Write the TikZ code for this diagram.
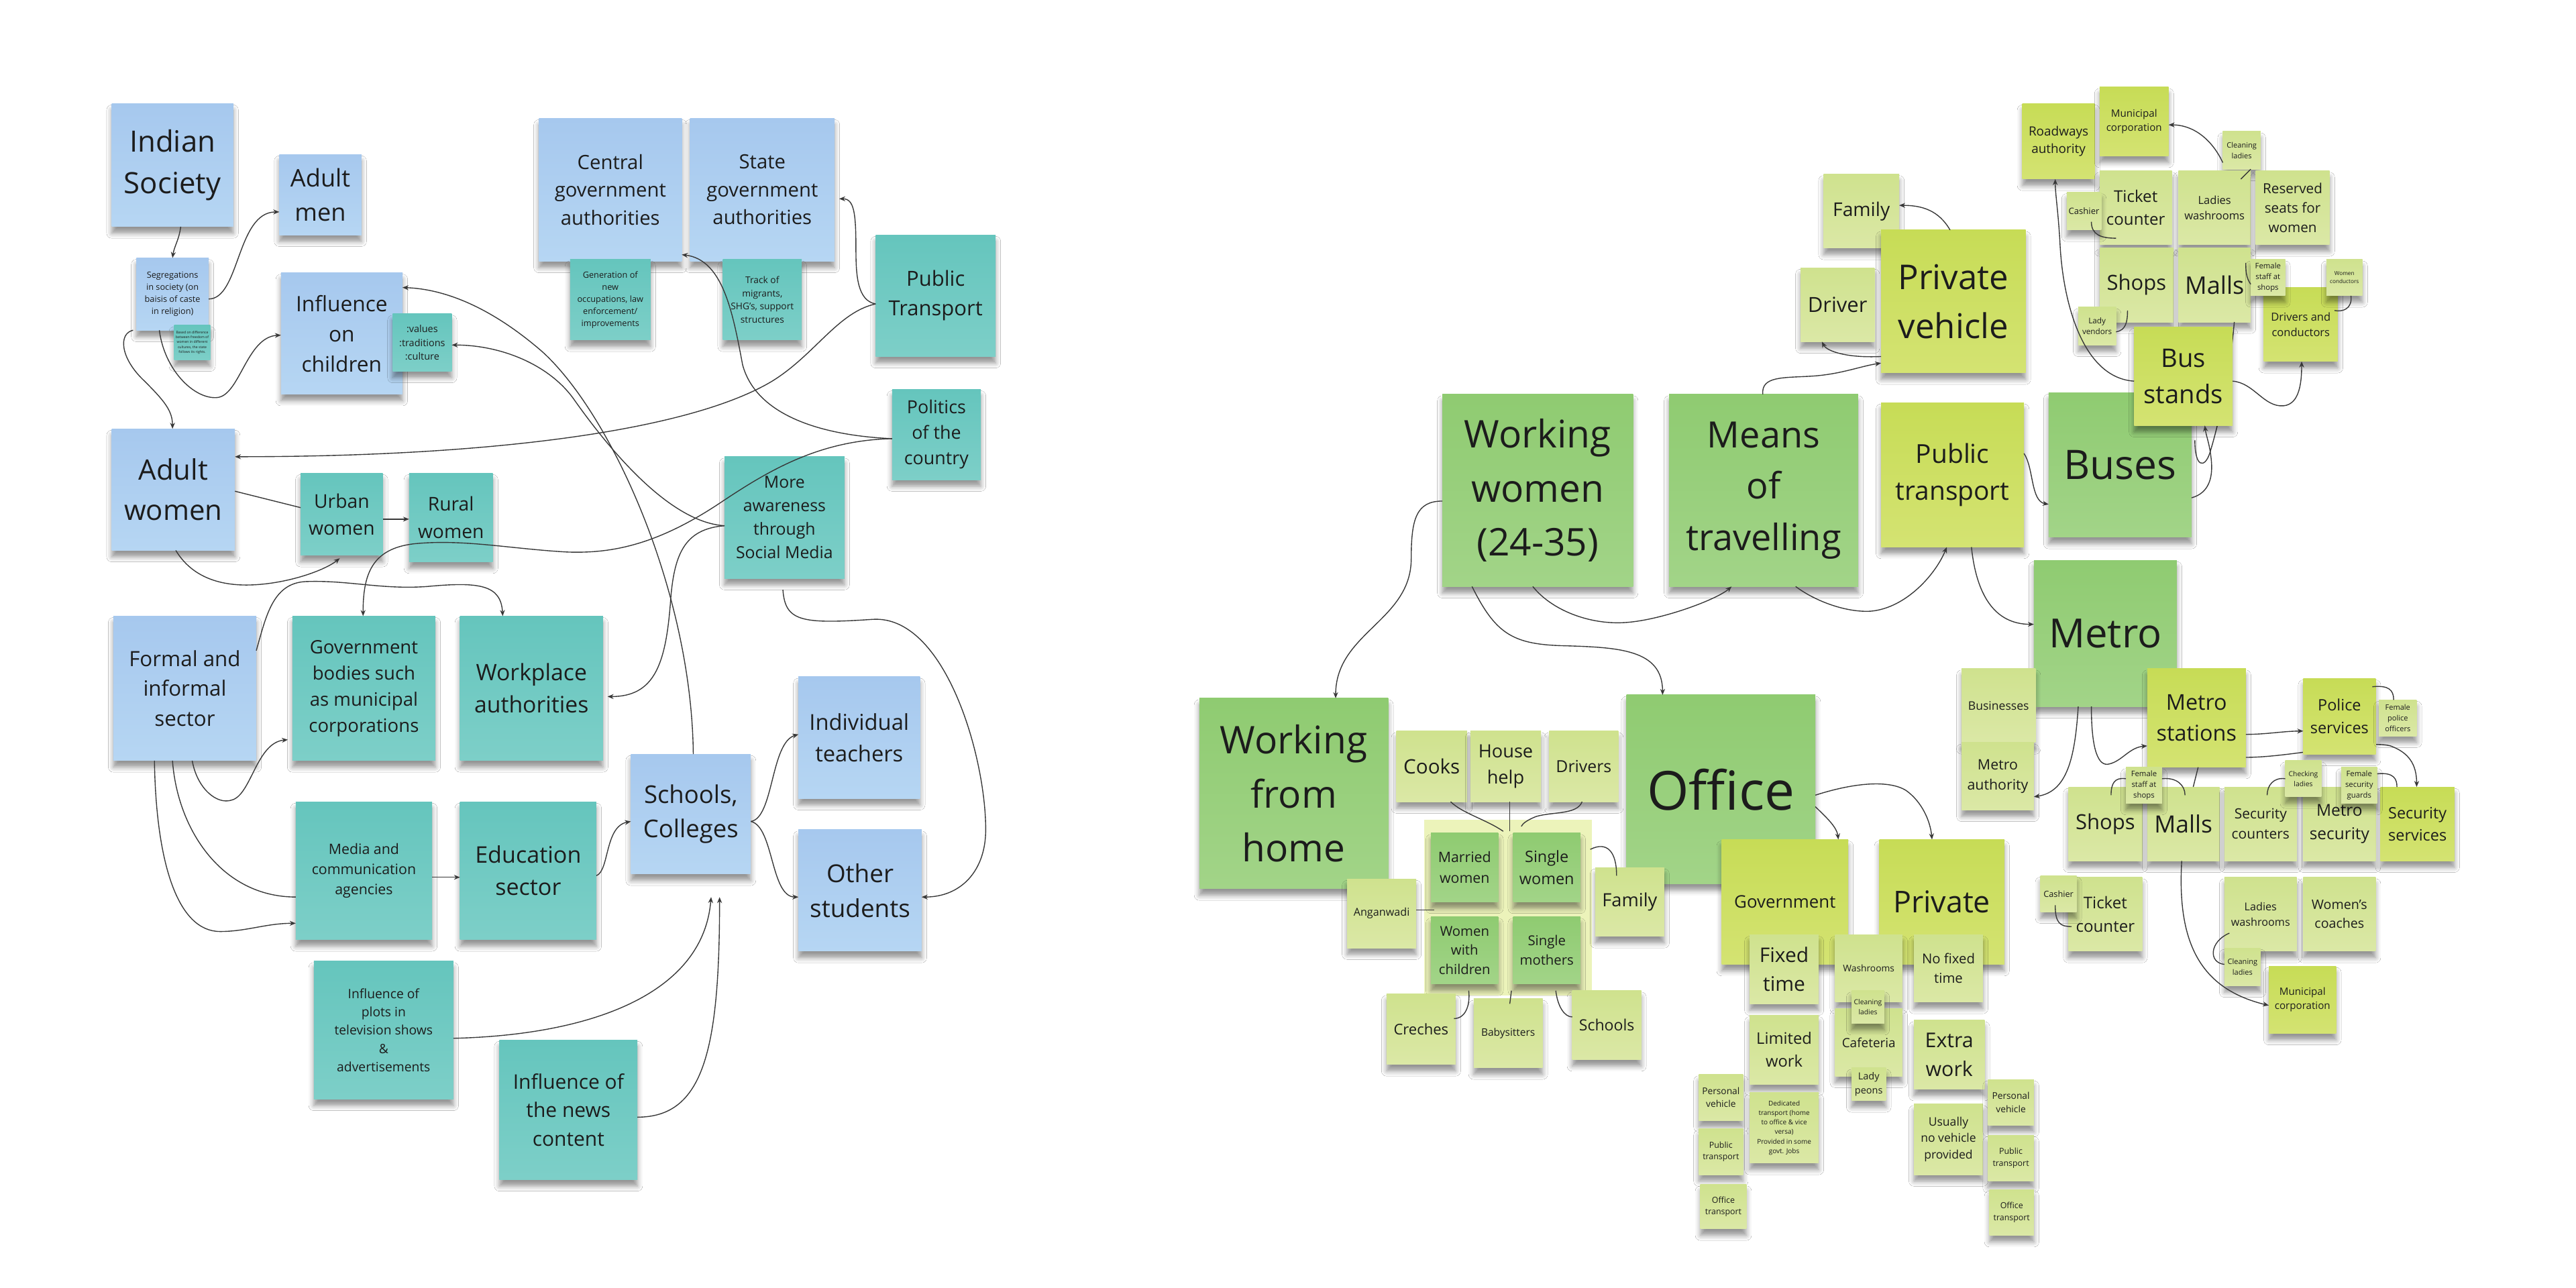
\documentclass[tikz,border=0pt]{standalone}
\usepackage{fontspec}
\setmainfont{Open Sans}
\usetikzlibrary{calc,arrows.meta,shadows.blur}
\definecolor{blueT}{RGB}{166,200,238}
\definecolor{blueB}{RGB}{182,214,243}
\definecolor{tealT}{RGB}{101,197,189}
\definecolor{tealB}{RGB}{125,207,200}
\definecolor{greenT}{RGB}{143,203,113}
\definecolor{greenB}{RGB}{162,212,136}
\definecolor{limeT}{RGB}{199,220,86}
\definecolor{limeB}{RGB}{212,227,114}
\definecolor{lightT}{RGB}{207,226,142}
\definecolor{lightB}{RGB}{219,232,166}
\definecolor{paleC}{RGB}{236,243,186}
\definecolor{txtC}{RGB}{28,28,28}
\definecolor{lineC}{RGB}{55,55,55}
\newcommand\fs[1]{\fontsize{#1}{\fpeval{#1*1.42}}\selectfont}
\newcommand\stk[8]{\node[#2, font=\fs{#3}, minimum width={(#6-#4)*0.025cm}, minimum height={(#7-#5)*0.025cm}] (#1) at ({(#4+#6)/2},{(#5+#7)/2}) {#8};}
\tikzset{
  stick/.style={rectangle, inner sep=0.5pt, outer sep=0pt, align=center, text=txtC,
    blur shadow={shadow xshift=0pt, shadow yshift=-2.8pt, shadow blur radius=2.2pt, shadow opacity=42}},
  nblue/.style={stick, top color=blueT, bottom color=blueB},
  nteal/.style={stick, top color=tealT, bottom color=tealB},
  ngreen/.style={stick, top color=greenT, bottom color=greenB},
  nlime/.style={stick, top color=limeT, bottom color=limeB},
  nlight/.style={stick, top color=lightT, bottom color=lightB},
  npale/.style={rectangle, inner sep=0pt, outer sep=0pt, fill=paleC},
  link/.style={draw=lineC, line width=0.4pt},
  arw/.style={link, -{Stealth[length=2.6pt,width=2.1pt]}},
}
\begin{document}
\begin{tikzpicture}[x=0.025cm, y=-0.025cm]
\useasboundingbox (0,0) rectangle (1568,784);
\fill[white] (0,0) rectangle (1568,784);

% ---------------- LEFT MAP ----------------
\stk{indsoc}{nblue}{12.7}{68}{63}{142}{138}{Indian\\Society}
\stk{adultmen}{nblue}{10.5}{170}{94}{220}{143}{Adult\\men}
\stk{segreg}{nblue}{3.7}{83}{157}{127}{201}{Segregations\\in society (on\\baisis of caste\\in religion)}
\stk{segnote}{nteal}{1.5}{106}{198}{128}{219}{Based on difference\\between freedom of\\women in different\\cultures, the state\\follows its rights.}
\stk{influence}{nblue}{9.2}{171}{166}{245}{240}{Influence\\on\\children}
\stk{values}{nteal}{4.2}{239}{191}{275}{226}{:values\\:traditions\\:culture}
\stk{centgov}{nblue}{8.5}{328}{72}{415}{159}{Central\\government\\authorities}
\stk{stategov}{nblue}{8.5}{420}{72}{508}{159}{State\\government\\authorities}
\stk{gennote}{nteal}{3.7}{347}{158}{396}{207}{Generation of\\new\\occupations, law\\enforcement/\\improvements}
\stk{tracknote}{nteal}{4.0}{440}{158}{488}{207}{Track of\\migrants,\\SHG's, support\\structures}
\stk{pubtrans}{nteal}{9.0}{533}{143}{606}{217}{Public\\Transport}
\stk{politics}{nteal}{7.8}{543}{237}{597}{292}{Politics\\of the\\country}
\stk{adultwomen}{nblue}{12.2}{68}{261}{143}{335}{Adult\\women}
\stk{urban}{nteal}{8.2}{183}{288}{233}{338}{Urban\\women}
\stk{rural}{nteal}{8.2}{249}{288}{300}{342}{Rural\\women}
\stk{moreaw}{nteal}{7.2}{441}{278}{514}{352}{More\\awareness\\through\\Social Media}
\stk{formal}{nblue}{9.1}{69}{375}{156}{463}{Formal and\\informal\\sector}
\stk{govbodies}{nteal}{8.0}{178}{375}{265}{463}{Government\\bodies such\\as municipal\\corporations}
\stk{workplace}{nteal}{9.8}{280}{375}{367}{463}{Workplace\\authorities}
\stk{indteach}{nblue}{9.5}{486}{412}{560}{486}{Individual\\teachers}
\stk{schools}{nblue}{10.6}{384}{459}{457}{532}{Schools,\\Colleges}
\stk{other}{nblue}{10.7}{486}{505}{561}{579}{Other\\students}
\stk{media}{nteal}{6.2}{180}{488}{263}{572}{Media and\\communication\\agencies}
\stk{education}{nteal}{9.9}{280}{488}{363}{572}{Education\\sector}
\stk{plots}{nteal}{5.6}{191}{585}{276}{669}{Influence of\\plots in\\television shows\\\&\\advertisements}
\stk{news}{nteal}{8.7}{304}{633}{388}{718}{Influence of\\the news\\content}

% left connectors
\draw[arw] (indsoc.south -| 110,0) .. controls (109,146) and (106,150) .. (segreg.north -| 105,0);
\draw[arw] (segreg.east |- 0,182) .. controls (146,182) and (144,129) .. (adultmen.west |- 0,129);
\draw[arw] (segreg.south -| 97,0) .. controls (100,225) and (118,243) .. (132,242) .. controls (146,241) and (150,205) .. (influence.west |- 0,204);
\draw[arw] (segreg.south -| 81,0) .. controls (72,203) and (73,218) .. (88,232) .. controls (100,244) and (105,250) .. (adultwomen.north -| 105,0);
\draw[arw] (schools.north -| 422,0) .. controls (421,360) and (372,252) .. (330,214) .. controls (300,188) and (272,176) .. (influence.east |- 0,175);
\draw[arw] (moreaw.west |- 0,320) .. controls (408,318) and (372,275) .. (350,244) .. controls (335,222) and (305,210) .. (values.east |- 0,210);
\draw[arw, shorten >=2pt] (moreaw.west |- 0,320) .. controls (416,322) and (410,338) .. (408,368) .. controls (405,405) and (398,424) .. (workplace.east |- 0,424);
\draw[arw] (politics.west |- 0,267) .. controls (498,265) and (460,252) .. (452,222) .. controls (446,190) and (440,158) .. (centgov.east |- 0,155);
\draw[arw, shorten >=2pt] (pubtrans.west |- 0,185) .. controls (522,183) and (521,168) .. (521,152) .. controls (521,130) and (520,121) .. (stategov.east |- 0,121);
\draw[arw] (pubtrans.west |- 0,185) .. controls (510,190) and (496,216) .. (470,232) .. controls (420,262) and (300,278) .. (adultwomen.east |- 0,278);
\draw[arw] (politics.west |- 0,267) .. controls (500,268) and (470,285) .. (440,305) .. controls (400,332) and (372,337) .. (345,336) .. controls (310,334) and (282,328) .. (252,331) .. controls (226,334) and (221,350) .. (govbodies.north -| 221,0);
\draw[link] (adultwomen.east |- 0,299) -- (urban.west |- 0,309);
\draw[arw] (urban.east |- 0,316) -- (rural.west |- 0,316);
\draw[arw, shorten >=2pt] (adultwomen.south -| 107,0) .. controls (116,350) and (132,357) .. (154,356) .. controls (176,355) and (198,347) .. (urban.south -| 209,0);
\draw[arw] (formal.east |- 0,396) .. controls (162,375) and (166,355) .. (186,354) .. controls (212,353) and (232,359) .. (260,357) .. controls (292,354) and (305,356) .. (workplace.north -| 306,0);
\draw[arw, shorten >=2pt] (formal.south -| 117,0) .. controls (120,480) and (132,490) .. (141,487) .. controls (153,484) and (156,452) .. (govbodies.west |- 0,450);
\draw[link] (formal.south -| 105,0) .. controls (108,505) and (135,546) .. (media.west |- 0,546);
\draw[arw] (formal.south -| 94,0) .. controls (95,525) and (108,567) .. (134,567) .. controls (150,567) and (162,562) .. (media.west |- 0,562);
\draw[arw] (media.east |- 0,534) -- (education.west |- 0,534);
\draw[arw] (education.east |- 0,533) .. controls (371,530) and (368,503) .. (schools.west |- 0,500);
\draw[arw] (schools.east |- 0,500) .. controls (471,498) and (469,452) .. (indteach.west |- 0,447);
\draw[arw] (schools.east |- 0,500) .. controls (471,503) and (469,546) .. (other.west |- 0,546);
\draw[arw, shorten <=5pt] (moreaw.south -| 476,0) .. controls (478,378) and (487,380) .. (531,377) .. controls (575,374) and (600,460) .. (600,505) .. controls (600,530) and (585,546) .. (other.east |- 0,546);
\draw[arw, shorten >=10pt] (plots.east |- 0,632) .. controls (360,630) and (428,605) .. (schools.south -| 434,0);
\draw[arw, shorten >=10pt] (news.east |- 0,680) .. controls (428,680) and (438,640) .. (schools.south -| 438,0);

% ---------------- RIGHT MAP ----------------
\stk{roadways}{nlime}{5.5}{1231}{63}{1275}{109}{Roadways\\authority}
\stk{municipal1}{nlime}{4.4}{1278}{53}{1320}{95}{Municipal\\corporation}
\stk{clean1}{nlight}{3.2}{1353}{80}{1376}{103}{Cleaning\\ladies}
\stk{family1}{nlight}{8.2}{1110}{106}{1156}{151}{Family}
\stk{driver}{nlight}{9.0}{1096}{163}{1141}{208}{Driver}
\stk{privveh}{nlime}{14.8}{1145}{140}{1233}{227}{Private\\vehicle}
\stk{ticket1}{nlight}{7.0}{1278}{104}{1322}{149}{Ticket\\counter}
\stk{cashier1}{nlight}{3.8}{1258}{117}{1279}{140}{Cashier}
\stk{ladieswash1}{nlight}{4.8}{1326}{104}{1370}{149}{Ladies\\washrooms}
\stk{reserved}{nlight}{6.0}{1373}{104}{1418}{149}{Reserved\\seats for\\women}
\stk{shops1}{nlight}{9.0}{1278}{151}{1323}{196}{Shops}
\stk{malls1}{nlight}{10.5}{1326}{151}{1370}{196}{Malls}
\stk{drivcond}{nlime}{4.8}{1378}{175}{1423}{220}{Drivers and\\conductors}
\stk{femstaff1}{nlight}{3.3}{1370}{158}{1391}{180}{Female\\staff at\\shops}
\stk{womcond}{nlight}{2.4}{1416}{158}{1438}{180}{Women\\conductors}
\stk{ladyv}{nlight}{3.4}{1265}{187}{1288}{210}{Lady\\vendors}
\stk{buses}{ngreen}{17.6}{1247}{239}{1334}{327}{Buses}
\draw[link] (malls1.south -| 1360,0) .. controls (1357,230) and (1350,260) .. (1345,276) .. controls (1342,285) and (1336,285) .. ($(buses.east |- 0,268)+(2,0)$);
\stk{busst}{nlime}{11.1}{1299}{199}{1359}{259}{Bus\\stands}
\stk{wwomen}{ngreen}{16.5}{878}{240}{994}{357}{Working\\women\\(24-35)}
\stk{means}{ngreen}{15.7}{1016}{240}{1131}{357}{Means\\of\\travelling}
\stk{pubtr}{nlime}{11.3}{1145}{245}{1232}{333}{Public\\transport}
\stk{metro}{ngreen}{17.4}{1238}{341}{1325}{430}{Metro}
\stk{metrost}{nlime}{9.4}{1307}{407}{1367}{467}{Metro\\stations}
\stk{businesses}{nlight}{5.1}{1194}{407}{1239}{452}{Businesses}
\stk{metroauth}{nlight}{6.2}{1194}{452}{1238}{493}{Metro\\authority}
\stk{shops2}{nlight}{9.0}{1259}{479}{1304}{524}{Shops}
\stk{malls2}{nlight}{10.3}{1307}{479}{1351}{524}{Malls}
\stk{femstaff2}{nlight}{3.3}{1294}{467}{1316}{489}{Female\\staff at\\shops}
\stk{seccount}{nlight}{6.1}{1354}{479}{1398}{524}{Security\\counters}
\stk{metrosec}{nlight}{7.1}{1402}{479}{1446}{524}{Metro\\security}
\stk{secserv}{nlime}{6.8}{1449}{479}{1494}{524}{Security\\services}
\draw[arw] (metrost.east |- 0,461) .. controls (1395,461) and (1440,450) .. (1455,454) .. controls (1466,458) and (1471,465) .. (secserv.north -| 1471,0);
\stk{police}{nlime}{6.8}{1402}{413}{1446}{459}{Police\\services}
\stk{fempol}{nlight}{3.2}{1448}{426}{1471}{448}{Female\\police\\officers}
\stk{checking}{nlight}{3.0}{1391}{463}{1413}{485}{Checking\\ladies}
\stk{femsec}{nlight}{3.3}{1425}{467}{1447}{489}{Female\\security\\guards}
\stk{ticket2}{nlight}{7.0}{1259}{534}{1304}{579}{Ticket\\counter}
\stk{cashier2}{nlight}{3.7}{1242}{533}{1264}{555}{Cashier}
\stk{ladieswash2}{nlight}{4.7}{1354}{534}{1398}{579}{Ladies\\washrooms}
\stk{womcoach}{nlight}{5.7}{1402}{534}{1446}{579}{Women's\\coaches}
\stk{clean2}{nlight}{3.2}{1354}{577}{1376}{600}{Cleaning\\ladies}
\stk{municipal2}{nlime}{4.4}{1381}{588}{1422}{629}{Municipal\\corporation}

\stk{wfh}{ngreen}{16.5}{730}{425}{845}{541}{Working\\from\\home}
\stk{cooks}{nlight}{8.6}{850}{445}{893}{488}{Cooks}
\stk{househelp}{nlight}{7.9}{895}{445}{938}{488}{House\\help}
\stk{drivers}{nlight}{7.2}{943}{445}{985}{488}{Drivers}
\node[npale, minimum width={102*0.025cm}, minimum height={107*0.025cm}] (grp) at (918,552.5) {};
\stk{married}{ngreen}{6.2}{871}{507}{912}{549}{Married\\women}
\stk{singlew}{ngreen}{6.8}{921}{507}{962}{549}{Single\\women}
\stk{womchild}{ngreen}{5.9}{871}{558}{912}{599}{Women\\with\\children}
\stk{singlemoth}{ngreen}{5.9}{921}{558}{962}{599}{Single\\mothers}
\stk{anganwadi}{nlight}{4.7}{820}{535}{862}{577}{Anganwadi}
\stk{office}{ngreen}{23.3}{990}{423}{1105}{538}{Office}
\stk{famwfh}{nlight}{7.9}{971}{528}{1013}{570}{Family}
\stk{creches}{nlight}{6.4}{844}{605}{886}{648}{Creches}
\stk{babysit}{nlight}{4.5}{897}{608}{939}{650}{Babysitters}
\stk{schoolsw}{nlight}{6.7}{957}{603}{999}{645}{Schools}
\stk{govt}{nlime}{7.5}{1048}{511}{1125}{587}{Government}
\stk{privoff}{nlime}{13.0}{1144}{511}{1220}{587}{Private}
\stk{fixed}{nlight}{8.7}{1065}{569}{1107}{611}{Fixed\\time}
\stk{washrooms}{nlight}{4.0}{1117}{569}{1158}{610}{Washrooms}
\stk{nofixed}{nlight}{5.9}{1165}{569}{1207}{610}{No fixed\\time}
\stk{limited}{nlight}{6.9}{1065}{618}{1107}{660}{Limited\\work}
\stk{cafeteria}{nlight}{5.5}{1117}{614}{1158}{655}{Cafeteria}
\stk{clean3}{nlight}{3.0}{1127}{603}{1147}{623}{Cleaning\\ladies}
\stk{ladyp}{nlight}{4.2}{1127}{650}{1148}{670}{Lady\\peons}
\stk{extra}{nlight}{8.8}{1165}{621}{1208}{663}{Extra\\work}
\stk{dedicated}{nlight}{2.9}{1065}{665}{1107}{708}{Dedicated\\transport (home\\to office \& vice\\versa)\\Provided in some\\govt. Jobs}
\stk{usually}{nlight}{5.1}{1165}{672}{1207}{715}{Usually\\no vehicle\\provided}
\stk{pers1}{nlight}{4.0}{1034}{654}{1061}{682}{Personal\\vehicle}
\stk{pub1}{nlight}{3.6}{1034}{687}{1061}{715}{Public\\transport}
\stk{offtr1}{nlight}{3.6}{1035}{721}{1063}{748}{Office\\transport}
\stk{pers2}{nlight}{4.0}{1210}{657}{1238}{685}{Personal\\vehicle}
\stk{pub2}{nlight}{3.6}{1210}{691}{1238}{719}{Public\\transport}
\stk{offtr2}{nlight}{3.6}{1211}{724}{1238}{752}{Office\\transport}

% right connectors
\draw[arw] (privveh.north -| 1187,0) .. controls (1180,128) and (1170,125) .. (family1.east |- 0,125);
\draw[arw] (privveh.west |- 0,217) .. controls (1125,218) and (1112,214) .. (driver.south -| 1109,0);
\draw[arw] (means.north -| 1073,0) .. controls (1072,229) and (1085,230) .. (1102,229) .. controls (1120,228) and (1132,223) .. (privveh.west |- 0,221);
\draw[arw] (busst.west |- 0,232) .. controls (1268,230) and (1256,185) .. (1254,150) .. controls (1253,130) and (1251,118) .. (roadways.south -| 1251,0);
\draw[arw] (clean1.west |- 0,99) .. controls (1347,86) and (1336,76) .. (municipal1.east |- 0,76);
\draw[link] (clean1.south -| 1370,0) .. controls (1369,104) .. ($(ladieswash1.north -| 1364,0)+(0,5)$);
\draw[link] ($(cashier1.south -| 1273,0)+(0,-5)$) .. controls (1273,143) and (1279,145) .. ($(ticket1.west |- 0,145)+(10,0)$);
\draw[link] (ladyv.east |- 0,202) .. controls (1294,201) and (1295,196) .. ($(shops1.south -| 1295,0)+(0,-7)$);
\draw[link] (femstaff1.west |- 0,173) .. controls (1367,169) and (1367,164) .. ($(malls1.east |- 0,160)+(-3,0)$);
\draw[link] (womcond.south -| 1431,0) .. controls (1432,188) and (1426,190) .. ($(drivcond.east |- 0,189)+(-2,0)$);
\draw[arw] (busst.east |- 0,232) .. controls (1372,233) and (1378,248) .. (1390,247) .. controls (1400,246) and (1401,232) .. (drivcond.south -| 1401,0);
\draw[arw] (buses.east |- 0,303) .. controls (1345,300) and (1347,290) .. (1346,280) .. controls (1345,270) and (1343,266) .. (busst.south -| 1342,0);
\draw[arw] (wwomen.west |- 0,305) .. controls (862,305) and (859,316) .. (859,340) .. controls (859,378) and (813,385) .. (wfh.north -| 813,0);
\draw[arw] (wwomen.south -| 896,0) .. controls (910,385) and (920,392) .. (950,393) .. controls (985,394) and (1012,395) .. (office.north -| 1012,0);
\draw[arw] (wwomen.south -| 933,0) .. controls (945,372) and (968,380) .. (988,379) .. controls (1010,378) and (1045,365) .. (means.south -| 1054,0);
\draw[arw] (means.south -| 1093,0) .. controls (1105,366) and (1124,373) .. (1139,372) .. controls (1160,370) and (1178,350) .. (pubtr.south -| 1185,0);
\draw[arw] (pubtr.east |- 0,276) .. controls (1238,285) and (1236,305) .. (buses.west |- 0,307);
\draw[arw] (pubtr.south -| 1200,0) .. controls (1203,362) and (1214,380) .. (metro.west |- 0,380);
\draw[arw] (metro.south -| 1265,0) .. controls (1263,462) and (1258,482) .. (metroauth.east |- 0,485);
\draw[arw] (metro.south -| 1273,0) .. controls (1273,456) and (1277,467) .. (1284,465) .. controls (1292,463) and (1296,455) .. (metrost.west |- 0,454);
\draw[arw] (metrost.east |- 0,447) .. controls (1380,447) and (1390,445) .. (police.west |- 0,445);
\draw[link] ($(police.east |- 0,418)+(-2,0)$) .. controls (1454,417) and (1457,420) .. (fempol.north -| 1457,0);
\draw[link] (femstaff2.west |- 0,474) .. controls (1287,473) and (1285,477) .. ($(shops2.north -| 1285,0)+(0,5)$);
\draw[link] (femstaff2.east |- 0,474) .. controls (1325,473) and (1330,478) .. ($(malls2.north -| 1330,0)+(0,5)$);
\draw[link] (metrost.south -| 1338,0) -- (malls2.north -| 1335,0);
\draw[link] (checking.west |- 0,474) .. controls (1384,473) and (1380,478) .. ($(seccount.north -| 1380,0)+(0,5)$);
\draw[link] (femsec.east |- 0,471) .. controls (1457,470) and (1459,474) .. (secserv.north -| 1459,0);
\draw[link] ($(cashier2.south -| 1251,0)+(0,-4)$) .. controls (1251,562) and (1254,564) .. ($(ticket2.west |- 0,564)+(2,0)$);
\draw[arw] (malls2.south -| 1328,0) .. controls (1325,575) and (1340,602) .. (municipal2.west |- 0,612);
\draw[link] ($(ladieswash2.west |- 0,568)+(3,0)$) .. controls (1345,573) and (1344,586) .. (clean2.west |- 0,587);
\draw[link] (cooks.south -| 883,0) .. controls (890,495) and (905,499) .. ($(grp.north -| 915,0)+(0,7)$);
\draw[link] (househelp.south -| 919,0) -- ($(grp.north -| 919,0)+(0,7)$);
\draw[link] (drivers.south -| 963,0) .. controls (960,496) and (945,494) .. (935,497) .. controls (930,499) and (927,501) .. ($(grp.north -| 926,0)+(0,4)$);
\draw[link] ($(singlew.east |- 0,517)+(6,0)$) .. controls (978,512) and (984,518) .. ($(famwfh.north -| 984,0)+(0,5)$);
\draw[link] (anganwadi.east |- 0,554) -- ($(grp.west |- 0,554)+(6,0)$);
\draw[link] ($(womchild.south -| 894,0)+(0,4)$) .. controls (895,612) and (892,620) .. ($(creches.east |- 0,620)+(-1,0)$);
\draw[link] ($(grp.south -| 920,0)+(0,-3)$) -- ($(babysit.north -| 919,0)+(0,3)$);
\draw[link] ($(singlemoth.south -| 947,0)+(0,4)$) .. controls (948,612) and (952,619) .. (schoolsw.west |- 0,619);
\draw[arw] (office.east |- 0,491) .. controls (1111,497) and (1118,503) .. (govt.north -| 1119,0);
\draw[arw] (office.east |- 0,484) .. controls (1130,476) and (1150,475) .. (1160,481) .. controls (1170,488) and (1175,500) .. (privoff.north -| 1176,0);
\end{tikzpicture}
\end{document}
